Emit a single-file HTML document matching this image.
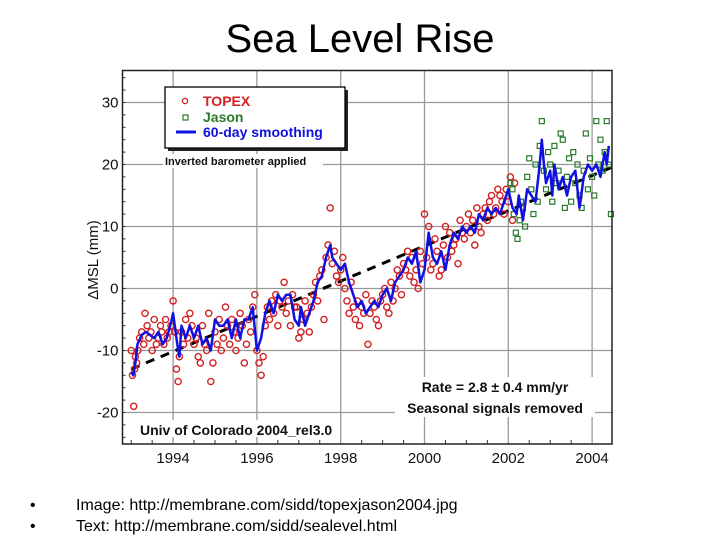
<!DOCTYPE html>
<html><head><meta charset="utf-8"><style>
body{margin:0;background:#fff;width:720px;height:540px;overflow:hidden;font-family:"Liberation Sans",sans-serif}
</style></head><body>
<svg id="chart" width="720" height="540" viewBox="0 0 720 540" xmlns="http://www.w3.org/2000/svg">
<text x="360" y="52" font-size="40" text-anchor="middle" fill="#000">Sea Level Rise</text>
<g id="plot"></g>
<g font-size="16" fill="#000">
<text x="30" y="510">•</text>
<text x="76" y="510">Image: http://membrane.com/sidd/topexjason2004.jpg</text>
<text x="30" y="531">•</text>
<text x="76" y="531">Text: http://membrane.com/sidd/sealevel.html</text>
</g>
</svg>
<script>
const xTicks=[1994,1996,1998,2000,2002,2004];
const yTicks=[-20,-10,0,10,20,30];
const topexYears=[1993.0,1993.03,1993.06,1993.08,1993.1,1993.13,1993.16,1993.2,1993.25,1993.3,1993.33,1993.38,1993.42,1993.47,1993.5,1993.55,1993.6,1993.65,1993.7,1993.73,1993.78,1993.82,1993.86,1993.9,1993.95,1994.0,1994.04,1994.08,1994.12,1994.15,1994.2,1994.25,1994.3,1994.35,1994.4,1994.45,1994.5,1994.55,1994.6,1994.65,1994.7,1994.75,1994.8,1994.85,1994.9,1994.95,1995.0,1995.05,1995.1,1995.15,1995.2,1995.25,1995.3,1995.35,1995.4,1995.45,1995.5,1995.55,1995.6,1995.65,1995.7,1995.75,1995.8,1995.85,1995.9,1995.95,1996.0,1996.05,1996.1,1996.15,1996.2,1996.25,1996.3,1996.35,1996.4,1996.45,1996.5,1996.55,1996.6,1996.65,1996.7,1996.75,1996.8,1996.85,1996.9,1996.95,1997.0,1997.05,1997.1,1997.15,1997.2,1997.25,1997.3,1997.35,1997.4,1997.45,1997.5,1997.55,1997.6,1997.65,1997.7,1997.75,1997.8,1997.85,1997.9,1997.95,1998.0,1998.05,1998.1,1998.15,1998.2,1998.25,1998.3,1998.35,1998.4,1998.45,1998.5,1998.55,1998.6,1998.65,1998.7,1998.75,1998.8,1998.85,1998.9,1998.95,1999.0,1999.05,1999.1,1999.15,1999.2,1999.25,1999.3,1999.35,1999.4,1999.45,1999.5,1999.55,1999.6,1999.65,1999.7,1999.75,1999.8,1999.85,1999.9,1999.95,2000.0,2000.05,2000.1,2000.15,2000.2,2000.25,2000.3,2000.35,2000.4,2000.45,2000.5,2000.55,2000.6,2000.65,2000.7,2000.75,2000.8,2000.85,2000.9,2000.95,2001.0,2001.05,2001.1,2001.15,2001.2,2001.25,2001.3,2001.35,2001.4,2001.45,2001.5,2001.55,2001.6,2001.65,2001.7,2001.75,2001.8,2001.85,2001.9,2001.95,2002.0,2002.05,2002.1,2002.15];
const topexValues=[-10,-14,-19,-13,-11,-12,-10,-8,-7,-9,-4,-6,-8,-7,-10,-5,-9,-8,-6,-7,-9,-5,-8,-7,-6,-2,-7,-13,-15,-11,-7,-9,-5,-8,-4,-6,-9,-8,-11,-12,-6,-9,-10,-4,-15,-12,-7,-9,-5,-10,-8,-3,-6,-9,-5,-7,-10,-8,-4,-6,-12,-9,-5,-7,-3,-1,-10,-12,-14,-11,-6,-3,-5,-2,-4,-1,-6,-2,-3,1,-4,-2,-6,-1,-3,-3,-8,-7,-5,-2,-4,-7,-3,-1,1,-2,2,3,-5,5,7,13,4,6,2,1,3,5,0,-2,-4,1,-3,-5,-2,-6,-3,-4,-1,-9,-4,-2,-3,-5,-6,-2,-1,0,-3,-4,1,-2,0,3,2,-1,4,3,6,2,5,1,3,0,6,4,12,5,10,3,4,8,6,2,3,7,10,5,9,6,7,8,4,11,9,8,10,12,9,11,7,13,10,9,12,13,11,14,15,12,13,16,15,14,12,16,14,18,11,17];
const jasonYears=[2002.05,2002.1,2002.13,2002.18,2002.22,2002.27,2002.3,2002.35,2002.4,2002.45,2002.5,2002.55,2002.6,2002.65,2002.7,2002.75,2002.8,2002.85,2002.9,2002.95,2003.0,2003.05,2003.1,2003.15,2003.2,2003.25,2003.3,2003.35,2003.4,2003.45,2003.5,2003.55,2003.6,2003.65,2003.7,2003.75,2003.8,2003.85,2003.9,2003.95,2004.0,2004.05,2004.1,2004.15,2004.2,2004.25,2004.3,2004.35,2004.4,2004.45];
const jasonValues=[17,16,12,9,8,11,14,13,10,18,21,16,12,20,14,23,27,19,16,22,20,14,23,17,19,25,24,13,18,21,14,22,17,20,15,13,19,25,16,21,18,15,27,20,24,19,22,27,20,12];
const smoothYears=[1993.0,1993.05,1993.1,1993.15,1993.25,1993.35,1993.45,1993.55,1993.65,1993.75,1993.85,1993.95,1994.0,1994.1,1994.15,1994.2,1994.3,1994.4,1994.5,1994.6,1994.7,1994.8,1994.9,1995.0,1995.1,1995.2,1995.3,1995.4,1995.5,1995.6,1995.7,1995.8,1995.9,1996.0,1996.1,1996.2,1996.3,1996.4,1996.5,1996.6,1996.7,1996.8,1996.9,1997.0,1997.05,1997.15,1997.25,1997.35,1997.45,1997.55,1997.65,1997.75,1997.8,1997.9,1998.0,1998.1,1998.2,1998.3,1998.4,1998.5,1998.6,1998.7,1998.8,1998.9,1999.0,1999.1,1999.2,1999.3,1999.4,1999.5,1999.6,1999.7,1999.8,1999.9,2000.0,2000.05,2000.1,2000.2,2000.3,2000.4,2000.5,2000.6,2000.7,2000.8,2000.9,2001.0,2001.1,2001.2,2001.3,2001.4,2001.5,2001.6,2001.7,2001.8,2001.9,2002.0,2002.1,2002.2,2002.25,2002.35,2002.45,2002.55,2002.65,2002.75,2002.8,2002.85,2002.9,2003.0,2003.05,2003.1,2003.2,2003.3,2003.4,2003.5,2003.6,2003.7,2003.8,2003.9,2004.0,2004.1,2004.2,2004.3,2004.35,2004.4];
const smoothValues=[-13.5,-14,-12,-9,-7.5,-7,-7.5,-8,-7,-9,-8,-5.5,-4,-9,-11,-6,-8,-6,-8,-6,-9,-8,-10,-5,-6,-6,-5,-8,-5,-8,-5,-5,-3,-10,-8,-4,-2,-4,-1,-2,-1,-1,-5,-6,-3,-6,-4,-2,1,2,5,7,5,4,3,4,1,-1,-3,-2,-4,-3,-2,-3,-1,0,-2,1,2,3,5,4,6,1,3,6,9,5,4,6,3,7,9,8,10,9,10,9,12,11,13,12,13,12,14,16,13,12,15,11,16,15,14,20,24,20,17,19,15,20,16,18,15,18,19,13,18,20,19,20,18,22,20,23];
const trendStart=[1993.0,-13];
const trendEnd=[2004.45,19.5];

const NS='http://www.w3.org/2000/svg';
const L=122.5,R=612,T=70.5,B=444;
const X=y=>340.7+41.9*(y-1998);
const Y=v=>288.5-6.2*v;
const plot=document.getElementById('plot');
function mk(tag,attrs,parent){const e=document.createElementNS(NS,tag);for(const k in attrs)e.setAttribute(k,attrs[k]);(parent||plot).appendChild(e);return e;}

const bg=mk('rect',{x:L,y:T,width:R-L,height:B-T,fill:'#fff'});


xTicks.forEach(t=>{
  const g=mk('line',{x1:X(t),x2:X(t),y1:T,y2:B,stroke:'#999','stroke-width':1.3});
  
  
  const tx=mk('text',{x:X(t),y:B+19,'font-size':15,'text-anchor':'middle',fill:'#111'});tx.textContent=t;
  
  
});
yTicks.forEach(t=>{
  const g=mk('line',{x1:L,x2:R,y1:Y(t),y2:Y(t),stroke:'#999','stroke-width':1.3});
  
  
  const tx=mk('text',{x:L-4,y:Y(t)+5,'font-size':15,'text-anchor':'end',fill:'#111'});tx.textContent=t;
  
  
});
for(let y=1993;y<=2004;y+=0.5){
  const m=mk('line',{x1:X(y),x2:X(y),y1:B,y2:B-(y%2==0?0:4),stroke:'#333'});
  
  
}
for(let v=-24;v<=34;v+=2){
  const m=mk('line',{x1:L,x2:L+3,y1:Y(v),y2:Y(v),stroke:'#333'});
  
  
}
const tr=mk('line',{x1:X(trendStart[0]),y1:Y(trendStart[1]),x2:X(trendEnd[0]),y2:Y(trendEnd[1]),stroke:'#000','stroke-width':3,'stroke-dasharray':'9 7'});


topexYears.forEach((yr,i)=>{
  if(topexValues[i]===undefined)return;
  const c=mk('circle',{cx:X(yr),cy:Y(topexValues[i]),r:3.1,fill:'none',stroke:'#d42020','stroke-width':1.4});
  
  
});
jasonYears.forEach((yr,i)=>{
  const s=mk('rect',{x:X(yr)-2.5,y:Y(jasonValues[i])-2.5,width:5,height:5,fill:'none',stroke:'#2a7a2a','stroke-width':1.2});
  
  
});
const sm=mk('polyline',{points:smoothYears.map((y,i)=>X(y)+','+Y(smoothValues[i])).join(' '),fill:'none',stroke:'#1010e0','stroke-width':2.5,'stroke-linejoin':'round'});


const fr=mk('rect',{x:L,y:T,width:R-L,height:B-T,fill:'none',stroke:'#222','stroke-width':1.5});


</script>
<svg style="position:absolute;left:0;top:0" width="720" height="540" xmlns="http://www.w3.org/2000/svg">
<g>
<rect x="168" y="90" width="180" height="61" fill="#222"/>
<rect x="165" y="87" width="180" height="61" fill="#fff" stroke="#000" stroke-width="1.3"/>
<circle cx="185" cy="101" r="2.6" fill="none" stroke="#d42020" stroke-width="1.3"/>
<text x="203" y="106" font-size="14" font-weight="bold" fill="#d42020">TOPEX</text>
<rect x="183" y="115" width="5" height="5" fill="none" stroke="#2a7a2a" stroke-width="1.2"/>
<text x="203" y="122" font-size="14" font-weight="bold" fill="#2a7a2a">Jason</text>
<line x1="176" y1="132" x2="196" y2="132" stroke="#1010e0" stroke-width="3"/>
<text x="203" y="137" font-size="14" font-weight="bold" fill="#1010e0">60-day smoothing</text>
</g>
<rect x="163" y="154" width="160" height="14" fill="#fff"/>
<text x="165" y="165" font-size="11" font-weight="bold" fill="#111">Inverted barometer applied</text>
<rect x="395" y="377" width="200" height="40" fill="#fff"/>
<text x="495" y="392" font-size="14" font-weight="bold" text-anchor="middle" fill="#111">Rate = 2.8 ± 0.4 mm/yr</text>
<text x="495" y="413" font-size="14" font-weight="bold" text-anchor="middle" fill="#111">Seasonal signals removed</text>
<rect x="137" y="420" width="196" height="17" fill="#fff"/>
<text x="140" y="435" font-size="14" font-weight="bold" fill="#111">Univ of Colorado 2004_rel3.0</text>
<text transform="translate(98,260) rotate(-90)" font-size="15" text-anchor="middle" fill="#111">ΔMSL  (mm)</text>
</svg>
</body></html>
